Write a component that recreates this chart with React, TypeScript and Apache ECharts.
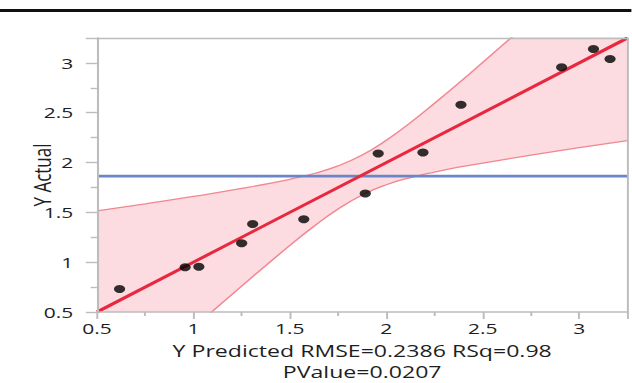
import React, { useEffect, useRef } from "react";
import * as echarts from "echarts";

// Observed points (Y Predicted, Y Actual)
const predicted = [0.617, 0.957, 1.028, 1.25, 1.307, 1.572, 1.891, 1.958, 2.19, 2.387, 2.909, 3.074, 3.16];
const actual = [0.731, 0.949, 0.955, 1.19, 1.384, 1.43, 1.69, 2.09, 2.1, 2.58, 2.957, 3.14, 3.04];

// Fit line end points and mean of Y Actual
const fitX = [0.5, 3.25];
const fitY = [0.5, 3.25];
const meanY = 1.864;

// Confidence band
const bandX = [0.5, 0.75, 1, 1.25, 1.5, 1.625, 1.75, 1.875, 2, 2.125, 2.25, 2.375, 2.5, 2.75, 3, 3.25];
const bandUpper = [1.514, 1.586, 1.66, 1.74, 1.832, 1.89, 1.966, 2.075, 2.223, 2.401, 2.595, 2.797, 3.005, 3.426, 3.85, 4.28];
const bandLower = [-0.514, -0.086, 0.34, 0.76, 1.168, 1.36, 1.534, 1.675, 1.777, 1.849, 1.905, 1.953, 1.995, 2.074, 2.149, 2.22];

// Tick labels
const xTicks = [0.5, 1, 1.5, 2, 2.5, 3];
const yTicks = [0.5, 1, 1.5, 2, 2.5, 3];

const xTitle = "Y Predicted RMSE=0.2386 RSq=0.98\nPValue=0.0207";
const yTitle = "Y Actual";

const STRETCH = 1.4;
const W = 632 / STRETCH;
const H = 383;
const FONT = "'Open Sans', 'Noto Sans', sans-serif";

export default function App() {
  const ref = useRef<HTMLDivElement>(null);

  useEffect(() => {
    if (!ref.current) return;
    const chart = echarts.init(ref.current, undefined, { renderer: "svg" });
    const axisGray = "#bcbcbc";
    const fmt = (list: number[]) => (v: number) =>
      list.some((t) => Math.abs(t - v) < 1e-9) ? String(v) : "";

    const frameAxis = {
      type: "value",
      min: 0.5,
      max: 3.25,
      z: 10,
      axisLine: { show: true, onZero: false, lineStyle: { color: axisGray, width: 1.4 } },
      axisTick: { show: false },
      axisLabel: { show: false },
      splitLine: { show: false },
    };

    const option: any = {
      animation: false,
      backgroundColor: "#ffffff",
      grid: {
        left: 97 / STRETCH,
        right: W - 628 / STRETCH,
        top: 38,
        bottom: H - 312,
        containLabel: false,
        outerBoundsMode: "none",
      },
      graphic: [
        {
          type: "line",
          shape: { x1: 0, y1: 10.5, x2: W, y2: 10.5 },
          style: { stroke: "#111111", lineWidth: 3 },
        },
      ],
      xAxis: [
        {
          type: "value",
          position: "bottom",
          min: 0.5,
          max: 3.25,
          interval: 0.5,
          z: 10,
          splitLine: { show: false },
          axisLine: { show: true, onZero: false, lineStyle: { color: axisGray, width: 1.5 } },
          axisTick: { show: true, length: 7, lineStyle: { color: axisGray, width: 1.4 } },
          minorTick: { show: true, splitNumber: 2, length: 4, lineStyle: { color: axisGray, width: 1.4 } },
          axisLabel: {
            fontSize: 15,
            fontFamily: FONT,
            color: "#1e1e1e",
            margin: 9,
            showMaxLabel: false,
            formatter: fmt(xTicks),
          },
          name: xTitle,
          nameLocation: "middle",
          nameGap: 28.5,
          nameMoveOverlap: false,
          nameTextStyle: { fontSize: 16.5, fontFamily: FONT, color: "#1e1e1e", lineHeight: 21 },
        },
        { ...frameAxis, position: "top" },
      ],
      yAxis: [
        {
          type: "value",
          position: "left",
          min: 0.5,
          max: 3.25,
          interval: 0.5,
          z: 10,
          splitLine: { show: false },
          axisLine: { show: true, onZero: false, lineStyle: { color: axisGray, width: 1.5 } },
          axisTick: { show: true, length: 8, lineStyle: { color: axisGray, width: 1.4 } },
          minorTick: { show: true, splitNumber: 2, length: 4.5, lineStyle: { color: axisGray, width: 1.4 } },
          axisLabel: {
            fontSize: 15,
            fontFamily: FONT,
            color: "#1e1e1e",
            margin: 17,
            showMaxLabel: false,
            formatter: fmt(yTicks),
          },
          name: yTitle,
          nameLocation: "middle",
          nameGap: 31,
          nameMoveOverlap: false,
          nameTextStyle: { fontSize: 17, fontFamily: FONT, color: "#1e1e1e" },
        },
        { ...frameAxis, position: "right" },
      ],
      series: [
        {
          type: "line",
          name: "upper",
          smooth: true,
          symbol: "none",
          data: bandX.map((x, i) => [x, bandUpper[i]]),
          lineStyle: { color: "#f38791", width: 1.3 },
          areaStyle: { color: "#fcdce1", opacity: 1, origin: "start" },
          z: 1,
        },
        {
          type: "line",
          name: "lower",
          smooth: true,
          symbol: "none",
          data: bandX.map((x, i) => [x, bandLower[i]]),
          lineStyle: { color: "#f38791", width: 1.3 },
          areaStyle: { color: "#ffffff", opacity: 1, origin: "start" },
          z: 1,
        },
        {
          type: "line",
          name: "mean",
          symbol: "none",
          data: fitX.map((x) => [x, meanY]),
          lineStyle: { color: "#6a86c9", width: 2.6 },
          z: 3,
        },
        {
          type: "line",
          name: "fit",
          symbol: "none",
          data: fitX.map((x, i) => [x, fitY[i]]),
          lineStyle: { color: "#e8283e", width: 2.8 },
          z: 4,
        },
        {
          type: "scatter",
          name: "points",
          symbol: "circle",
          symbolSize: 8,
          data: predicted.map((x, i) => [x, actual[i]]),
          itemStyle: { color: "#000000" },
          z: 5,
        },
      ],
    };
    chart.setOption(option);
    return () => chart.dispose();
  }, []);

  return (
    <div
      style={{
        position: "absolute",
        left: 0,
        top: 0,
        width: 632,
        height: H,
        overflow: "hidden",
        background: "#ffffff",
      }}
    >
      <div
        ref={ref}
        style={{
          width: W,
          height: H,
          transform: `scaleX(${STRETCH})`,
          transformOrigin: "0 0",
        }}
      />
    </div>
  );
}
